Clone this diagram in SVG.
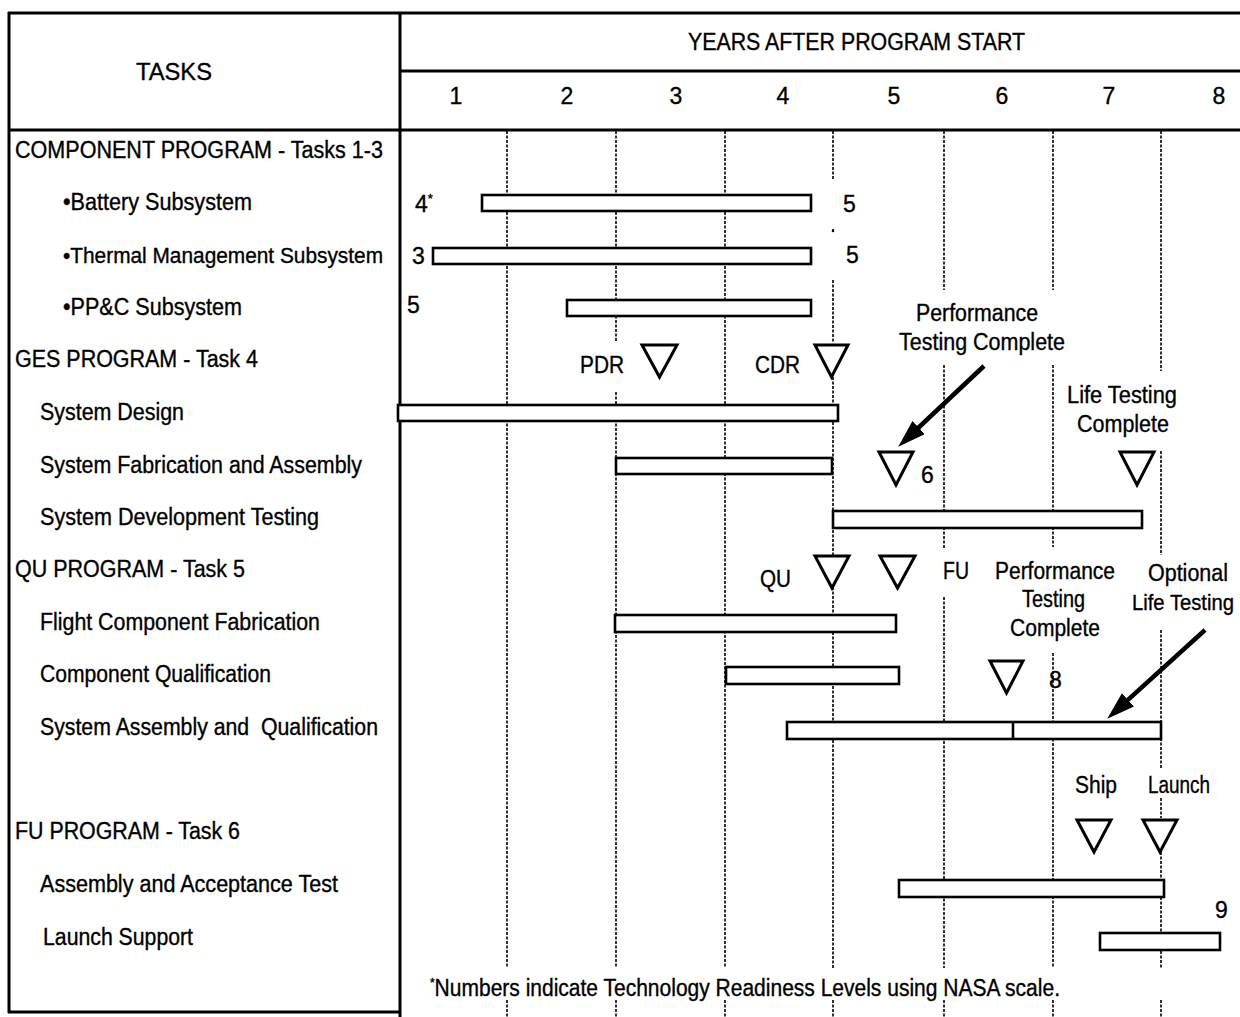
<svg xmlns="http://www.w3.org/2000/svg" width="1240" height="1017" viewBox="0 0 1240 1017">
<style>
.t{font-family:"Liberation Sans",Arial,Helvetica,sans-serif;font-size:23px;fill:#000;stroke:#000;stroke-width:0.35}
.c{text-anchor:middle}
.frame{stroke:#000;stroke-width:3;fill:none}
.grid{stroke:#000;stroke-width:1.6;stroke-dasharray:3 1.5;fill:none}
.bar{fill:#fff;stroke:#000;stroke-width:2.6}
.ms{fill:#fff;stroke:#000;stroke-width:3;stroke-linejoin:miter}
.arr{stroke:#000;stroke-width:4.5;fill:none}
</style>
<defs>
<marker id="ah" markerUnits="userSpaceOnUse" markerWidth="30" markerHeight="20" refX="19" refY="9" orient="auto">
<path d="M0,0 L28,9 L0,18 z" fill="#000"/>
</marker>
</defs>
<rect width="1240" height="1017" fill="#fff"/>

<g id="frame">
<line class="frame" x1="8" y1="13" x2="1240" y2="13"/>
<line class="frame" x1="400" y1="71" x2="1240" y2="71"/>
<line class="frame" x1="8" y1="130" x2="1240" y2="130"/>
<line class="frame" x1="9" y1="12" x2="9" y2="1013"/>
<line class="frame" x1="400" y1="12" x2="400" y2="1017"/>
<line class="frame" x1="8" y1="1012" x2="400" y2="1012"/>
</g>

<g id="header">
<text class="t c" x="174" y="80" textLength="76" lengthAdjust="spacingAndGlyphs">TASKS</text>
<text class="t" x="688" y="50" textLength="337" lengthAdjust="spacingAndGlyphs">YEARS AFTER PROGRAM START</text>
<text class="t c" x="456" y="104">1</text>
<text class="t c" x="567" y="104">2</text>
<text class="t c" x="676" y="104">3</text>
<text class="t c" x="783" y="104">4</text>
<text class="t c" x="894" y="104">5</text>
<text class="t c" x="1002" y="104">6</text>
<text class="t c" x="1109" y="104">7</text>
<text class="t c" x="1219" y="104">8</text>
</g>

<g id="grid">
<path class="grid" d="M507,131 V968 M507,1000 V1017"/>
<path class="grid" d="M616,131 V342 M616,392 V968 M616,1000 V1017"/>
<path class="grid" d="M725,131 V968 M725,1000 V1017"/>
<path class="grid" d="M833,131 V180 M833,229 V233 M833,280 V343 M833,377 V555 M833,587 V968 M833,1000 V1017"/>
<path class="grid" d="M944,131 V290 M944,365 V548 M944,597 V968 M944,1000 V1017"/>
<path class="grid" d="M1053,131 V290 M1053,365 V547 M1053,653 V968 M1053,1000 V1017"/>
<path class="grid" d="M1161,131 V371 M1161,451 V555 M1161,630 V768 M1161,798 V818 M1161,852 V968 M1161,1000 V1017"/>
</g>

<g id="tasks">
<text class="t" x="15" y="158" textLength="368" lengthAdjust="spacingAndGlyphs">COMPONENT PROGRAM - Tasks 1-3</text>
<text class="t" x="63" y="210" textLength="189" lengthAdjust="spacingAndGlyphs">•Battery Subsystem</text>
<text class="t" x="63" y="263" textLength="320" lengthAdjust="spacingAndGlyphs" style="font-size:22px">•Thermal Management Subsystem</text>
<text class="t" x="63" y="315" textLength="179" lengthAdjust="spacingAndGlyphs">•PP&amp;C Subsystem</text>
<text class="t" x="15" y="367" textLength="243" lengthAdjust="spacingAndGlyphs">GES PROGRAM - Task 4</text>
<text class="t" x="40" y="420" textLength="144" lengthAdjust="spacingAndGlyphs">System Design</text>
<text class="t" x="40" y="473" textLength="322" lengthAdjust="spacingAndGlyphs">System Fabrication and Assembly</text>
<text class="t" x="40" y="525" textLength="279" lengthAdjust="spacingAndGlyphs">System Development Testing</text>
<text class="t" x="15" y="577" textLength="230" lengthAdjust="spacingAndGlyphs">QU PROGRAM - Task 5</text>
<text class="t" x="40" y="630" textLength="280" lengthAdjust="spacingAndGlyphs">Flight Component Fabrication</text>
<text class="t" x="40" y="682" textLength="231" lengthAdjust="spacingAndGlyphs">Component Qualification</text>
<text class="t" x="40" y="735" textLength="338" lengthAdjust="spacingAndGlyphs" xml:space="preserve">System Assembly and  Qualification</text>
<text class="t" x="15" y="839" textLength="225" lengthAdjust="spacingAndGlyphs">FU PROGRAM - Task 6</text>
<text class="t" x="40" y="892" textLength="298" lengthAdjust="spacingAndGlyphs">Assembly and Acceptance Test</text>
<text class="t" x="43" y="945" textLength="150" lengthAdjust="spacingAndGlyphs">Launch Support</text>
</g>

<g id="bars">
<rect id="bar-battery" class="bar" x="482" y="195" width="329" height="16"/>
<rect id="bar-thermal" class="bar" x="433" y="248" width="378" height="16"/>
<rect id="bar-ppc" class="bar" x="567" y="300" width="244" height="16"/>
<rect id="bar-sysdesign" class="bar" x="398" y="405" width="440" height="16"/>
<rect id="bar-sysfab" class="bar" x="616" y="458" width="216" height="16"/>
<rect id="bar-sysdev" class="bar" x="833" y="511" width="309" height="17"/>
<rect id="bar-flightfab" class="bar" x="615" y="615" width="281" height="17"/>
<rect id="bar-compqual" class="bar" x="726" y="667" width="173" height="17"/>
<g id="bar-sysassy">
<rect class="bar" x="787" y="722" width="374" height="17"/>
<line x1="1013" y1="722" x2="1013" y2="739" stroke="#000" stroke-width="2.6"/>
</g>
<rect id="bar-accept" class="bar" x="899" y="880" width="265" height="17"/>
<rect id="bar-launchsup" class="bar" x="1100" y="933" width="120" height="17"/>
</g>

<g id="trl">
<text class="t" x="415" y="212">4<tspan font-size="13" dy="-9">*</tspan></text>
<text class="t" x="843" y="212">5</text>
<circle cx="833" cy="231" r="1.3" fill="#000"/>
<text class="t" x="412" y="264">3</text>
<text class="t" x="846" y="263">5</text>
<text class="t" x="407" y="313">5</text>
<text class="t" x="921" y="483">6</text>
<text class="t" x="1049" y="688">8</text>
<text class="t" x="1215" y="918">9</text>
</g>

<g id="milestones">
<g id="ms-pdr"><polygon class="ms" points="642,345 677,345 659.5,377"/><text class="t" x="580" y="373" textLength="44" lengthAdjust="spacingAndGlyphs">PDR</text></g>
<g id="ms-cdr"><polygon class="ms" points="815,345 848,345 831.5,377"/><text class="t" x="755" y="373" textLength="45" lengthAdjust="spacingAndGlyphs">CDR</text></g>
<g id="ms-perf1"><polygon class="ms" points="879,452 913,452 896,485"/></g>
<g id="ms-life"><polygon class="ms" points="1120,452 1154,452 1137,485"/></g>
<g id="ms-qu"><polygon class="ms" points="815,556 849,556 832,588"/><text class="t" x="760" y="587" textLength="31" lengthAdjust="spacingAndGlyphs">QU</text></g>
<g id="ms-fu"><polygon class="ms" points="880,556 915,556 897.5,588"/><text class="t" x="943" y="579" textLength="26" lengthAdjust="spacingAndGlyphs">FU</text></g>
<g id="ms-perf2"><polygon class="ms" points="990,661 1023,661 1006.5,693"/></g>
<g id="ms-ship"><polygon class="ms" points="1077,820 1111,820 1094,852"/><text class="t" x="1075" y="793" textLength="42" lengthAdjust="spacingAndGlyphs">Ship</text></g>
<g id="ms-launch"><polygon class="ms" points="1143,820 1177,820 1160,852"/><text class="t" x="1148" y="793" textLength="62" lengthAdjust="spacingAndGlyphs">Launch</text></g>
</g>

<g id="notes">
<text class="t" x="916" y="321" textLength="122" lengthAdjust="spacingAndGlyphs">Performance</text>
<text class="t" x="899" y="350" textLength="166" lengthAdjust="spacingAndGlyphs">Testing Complete</text>
<text class="t" x="1067" y="403" textLength="110" lengthAdjust="spacingAndGlyphs">Life Testing</text>
<text class="t" x="1077" y="432" textLength="92" lengthAdjust="spacingAndGlyphs">Complete</text>
<text class="t" x="995" y="579" textLength="120" lengthAdjust="spacingAndGlyphs">Performance</text>
<text class="t" x="1022" y="607" textLength="63" lengthAdjust="spacingAndGlyphs">Testing</text>
<text class="t" x="1010" y="636" textLength="90" lengthAdjust="spacingAndGlyphs">Complete</text>
<text class="t" x="1148" y="581" textLength="80" lengthAdjust="spacingAndGlyphs">Optional</text>
<text class="t" x="1132" y="610" textLength="102" lengthAdjust="spacingAndGlyphs" style="font-size:21.5px">Life Testing</text>
<text class="t" x="430" y="996" textLength="630" lengthAdjust="spacingAndGlyphs"><tspan font-size="13" dy="-9">*</tspan><tspan dy="9">Numbers indicate Technology Readiness Levels using NASA scale.</tspan></text>
</g>

<g id="connectors">
<line class="arr" x1="984" y1="366" x2="904.8" y2="440.5" marker-end="url(#ah)"/>
<line class="arr" x1="1205" y1="630" x2="1113.9" y2="712.6" marker-end="url(#ah)"/>
</g>
</svg>
